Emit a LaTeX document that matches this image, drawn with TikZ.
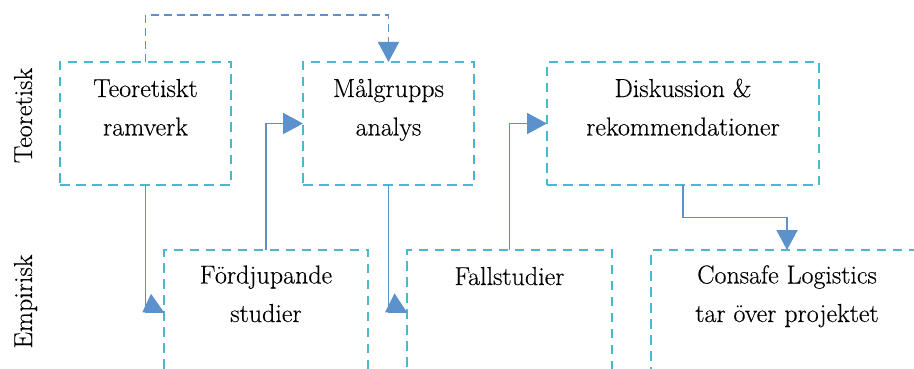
\documentclass[tikz,border=0pt]{standalone}
\usepackage{fontspec}
\newfontfamily\diagfont{Latin Modern Roman}[FakeBold=0.3]
\usetikzlibrary{arrows.meta}
\definecolor{boxcyan}{RGB}{75,183,208}
\definecolor{linkblue}{RGB}{91,146,204}
\begin{document}
\begin{tikzpicture}[x=1pt,y=-1pt,
  stagebox/.style={draw=boxcyan, line width=2.4pt, dash pattern=on 9.5pt off 6.5pt,
    minimum height=123pt, inner sep=0pt, outer sep=0pt},
  txt/.style={font=\diagfont\fontsize{26}{38.5}\selectfont, align=center, anchor=base,
    inner sep=0pt, text=black},
  side/.style={font=\diagfont\fontsize{26}{30}\selectfont, rotate=90, anchor=base,
    inner sep=0pt, text=black},
  link/.style={draw=linkblue, line width=1.9pt},
  headed/.style={-{Triangle[length=20pt,width=21pt]}},
  dashlink/.style={link, dash pattern=on 8pt off 5pt}
]
\useasboundingbox (0,0) rectangle (914,369);
\clip (0,0) rectangle (914,369);

% theoretical row
\node[stagebox, minimum width=171pt] (teo) at (145.5,123.5) {};
\node[stagebox, minimum width=171pt] (mal) at (388.5,123.5) {};
\node[stagebox, minimum width=272pt] (dis) at (683,123.5) {};
% empirical row (runs past the lower edge)
\node[stagebox, minimum width=204pt] (fdj) at (266,311.5) {};
\node[stagebox, minimum width=205pt] (fal) at (509.5,311.5) {};
\node[stagebox, minimum width=272pt] (con) at (787,311.5) {};

% box texts (base anchor sits on the last line)
\node[txt] (teoT) at ([yshift=-73.5pt]teo.north) {Teoretiskt\\ramverk};
\node[txt] (malT) at ([yshift=-73.5pt]mal.north) {Målgrupps\\analys};
\node[txt] (disT) at ([yshift=-73.5pt]dis.north) {Diskussion \&\\rekommendationer};
\node[txt] (fdjT) at ([yshift=-72pt]fdj.north) {Fördjupande\\studier};
\node[txt] (falT) at ([yshift=-35pt]fal.north) {Fallstudier};
\node[txt] (conT) at ([yshift=-72pt]con.north) {Consafe Logistics\\tar över projektet};

% row labels
\node[side] (rowT) at (32,115.5) {Teoretisk};
\node[side] (rowE) at (32,301.5) {Empirisk};

% connectors
\draw[dashlink, headed] (teo.north) -- ++(0,-47) -| (mal.north);
\draw[link, headed] (fdj.north) |- (mal.west);
\draw[link, headed] (fal.north) |- (dis.west);
\draw[link, headed] (dis.south) -- ++(0,32.5) -| (con.north);

\coordinate (in1) at (fdj.west |- 0,312.3);
\coordinate (in2) at (fal.west |- 0,312.3);
\draw[link] (teo.south) |- (in1);
\draw[link] (mal.south) |- (in2);
\fill[linkblue] (in1) -- ++(-13,-18.5) -- ++(-8.7,18.5) -- cycle;
\fill[linkblue] (in2) -- ++(-12.5,-19) -- ++(-9.5,19) -- cycle;
\end{tikzpicture}
\end{document}
